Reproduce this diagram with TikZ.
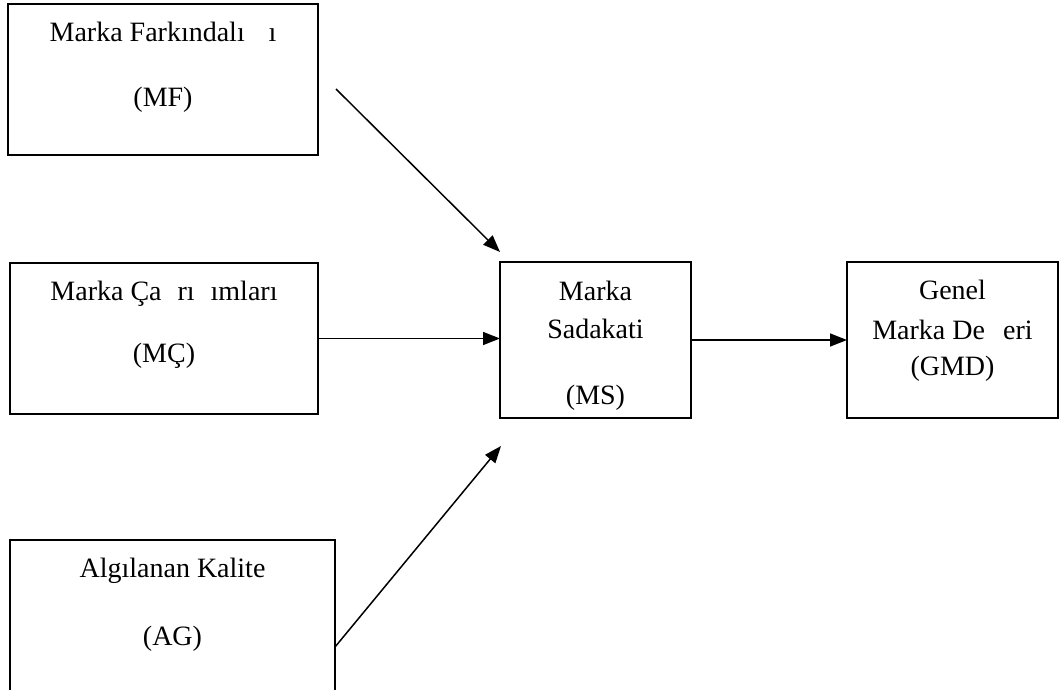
\documentclass[tikz,border=0pt]{standalone}
\usepackage{fontspec}
\setmainfont{Liberation Serif}
\usetikzlibrary{arrows.meta}

\begin{document}
\begin{tikzpicture}[x=1pt, y=-1pt,
    box/.style={draw, line width=1.6pt, inner sep=0pt, outer sep=0pt, anchor=north west},
    lbl/.style={font=\fontsize{28}{33}\selectfont, inner sep=0pt, anchor=base},
    arr/.style={line width=1.5pt, -{Triangle[length=17pt,width=13pt]}}]
  \useasboundingbox (0,0) rectangle (1061,690);
  \clip (0,0) rectangle (1061,690);

  % boxes
  \node[box, minimum width=310pt, minimum height=151pt] (mf) at (8,4) {};
  \node[box, minimum width=308pt, minimum height=151pt] (mc) at (10,263) {};
  \node[box, minimum width=325pt, minimum height=200pt] (ag) at (10,540) {};
  \node[box, minimum width=191pt, minimum height=156pt] (ms) at (500,262) {};
  \node[box, minimum width=211pt, minimum height=156pt] (gmd) at (847,262) {};

  % labels
  \node[lbl] (mf-a) at (163,42) {Marka Farkındalı\hspace{0.85em}ı};
  \node[lbl] (mf-b) at (163,107) {(MF)};
  \node[lbl] (mc-a) at (164,300) {Marka Ça\hspace{0.57em}rı\hspace{0.57em}ımları};
  \node[lbl] (mc-b) at (164,362) {(MÇ)};
  \node[lbl] (ag-a) at (172.5,577) {Algılanan Kalite};
  \node[lbl] (ag-b) at (172.5,645) {(AG)};
  \node[lbl] (ms-a) at (595.5,300) {Marka};
  \node[lbl] (ms-b) at (595.5,338) {Sadakati};
  \node[lbl] (ms-c) at (595.5,404) {(MS)};
  \node[lbl] (gmd-a) at (952.5,299) {Genel};
  \node[lbl] (gmd-b) at (952.5,339) {Marka De\hspace{0.65em}eri};
  \node[lbl] (gmd-c) at (952.5,375) {(GMD)};

  % connectors
  \coordinate (mf-out) at (336,89);
  \coordinate (ag-out) at (335,647);
  \coordinate (ms-in1) at (500,252);
  \coordinate (ms-in3) at (501,446);
  \draw[arr] (mf-out) -- (ms-in1);
  \draw[arr] (mc.east) -- (mc.east -| ms.west);
  \draw[arr] (ag-out) -- (ms-in3);
  \draw[arr] (ms.east) -- (ms.east -| gmd.west);
\end{tikzpicture}
\end{document}
